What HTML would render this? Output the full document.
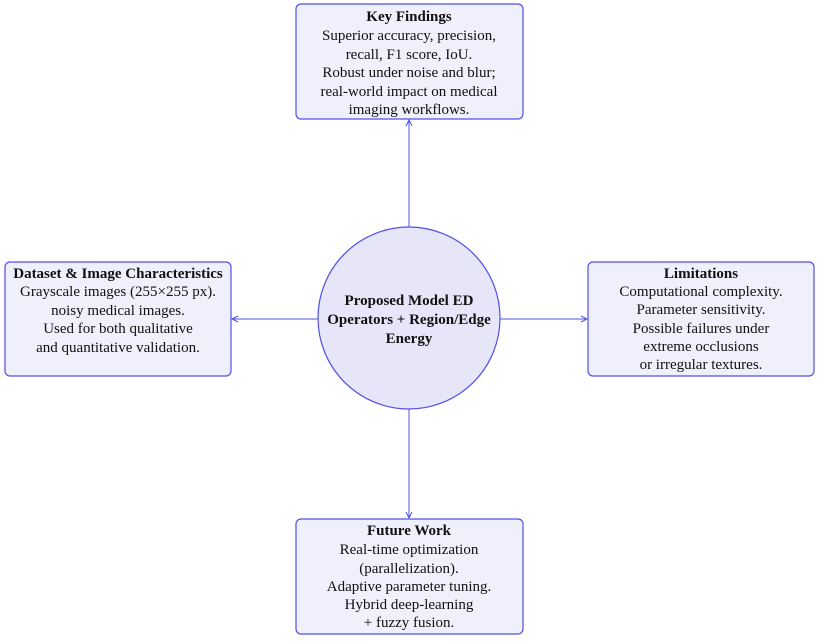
<!DOCTYPE html>
<html><head><meta charset="utf-8"><style>
html,body{margin:0;padding:0;background:#fff;}
text{font-family:"Liberation Serif",serif;font-size:15px;fill:#111;}
.b{font-weight:bold;}
</style></head><body>
<svg width="817" height="638" xmlns="http://www.w3.org/2000/svg">
<defs><marker id="a" markerWidth="8" markerHeight="8" refX="7" refY="4" orient="auto" markerUnits="userSpaceOnUse"><path d="M1,1 L7,4 L1,7" fill="none" stroke="#5050e8" stroke-width="1"/></marker></defs>
<g stroke="#5050e8" stroke-width="1.2" fill="#f0f0fc">
<rect x="296" y="4" width="227" height="115" rx="5"/>
<rect x="5" y="262" width="226" height="114" rx="5"/>
<rect x="588" y="262" width="226" height="114" rx="5"/>
<rect x="296" y="519" width="227" height="115" rx="5"/>
<circle cx="409" cy="318" r="91" fill="#e6e6f8"/>
</g>
<g stroke="#5050e8" stroke-width="1">
<line x1="409" y1="227" x2="409" y2="120" marker-end="url(#a)"/>
<line x1="409" y1="409" x2="409" y2="518" marker-end="url(#a)"/>
<line x1="318" y1="319" x2="232" y2="319" marker-end="url(#a)"/>
<line x1="500" y1="319" x2="587" y2="319" marker-end="url(#a)"/>
</g>
<g text-anchor="middle">
<text x="409" y="21" class="b">Key Findings</text>
<text x="409" y="40">Superior accuracy, precision,</text>
<text x="409" y="59">recall, F1 score, IoU.</text>
<text x="409" y="77">Robust under noise and blur;</text>
<text x="409" y="96">real-world impact on medical</text>
<text x="409" y="114">imaging workflows.</text>

<text x="118" y="278" class="b">Dataset &amp; Image Characteristics</text>
<text x="118" y="296">Grayscale images (255×255 px).</text>
<text x="118" y="315">noisy medical images.</text>
<text x="118" y="333">Used for both qualitative</text>
<text x="118" y="352">and quantitative validation.</text>

<text x="701" y="278" class="b">Limitations</text>
<text x="701" y="296">Computational complexity.</text>
<text x="701" y="314">Parameter sensitivity.</text>
<text x="701" y="333">Possible failures under</text>
<text x="701" y="351">extreme occlusions</text>
<text x="701" y="369">or irregular textures.</text>

<text x="409" y="535" class="b">Future Work</text>
<text x="409" y="554">Real-time optimization</text>
<text x="409" y="573">(parallelization).</text>
<text x="409" y="591">Adaptive parameter tuning.</text>
<text x="409" y="609">Hybrid deep-learning</text>
<text x="409" y="627">+ fuzzy fusion.</text>

<text x="409" y="305" class="b">Proposed  Model ED</text>
<text x="409" y="324" class="b">Operators  + Region/Edge</text>
<text x="409" y="343" class="b">Energy</text>
</g>
</svg>
</body></html>
